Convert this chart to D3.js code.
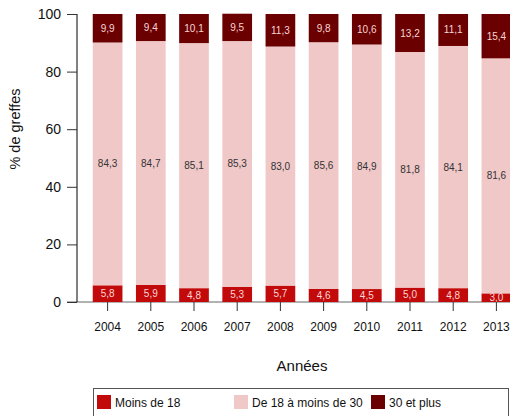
<!DOCTYPE html>
<html lang="fr">
<head>
    <meta charset="UTF-8">
    <title>Greffes par âge du donneur</title>
    <script src="https://d3js.org/d3.v7.min.js"></script>
    <style>
        body {
            margin: 0;
            background-color: #fff;
            font-family: "Liberation Sans", Arial, sans-serif;
        }
        svg {
            display: block;
        }
    </style>
</head>
<body>
<svg width="510" height="416"></svg>

<script>
    // Data
    const years = ["2004", "2005", "2006", "2007", "2008", "2009", "2010", "2011", "2012", "2013"];
    const moins18 = [5.8, 5.9, 4.8, 5.3, 5.7, 4.6, 4.5, 5.0, 4.8, 3.0];
    const de18a30 = [84.3, 84.7, 85.1, 85.3, 83.0, 85.6, 84.9, 81.8, 84.1, 81.6];
    const plus30 = [9.9, 9.4, 10.1, 9.5, 11.3, 9.8, 10.6, 13.2, 11.1, 15.4];
    const seriesNames = ["Moins de 18", "De 18 à moins de 30", "30 et plus"];
    const yTicks = [0, 20, 40, 60, 80, 100];

    const colors = ["#c30a0a", "#f0c8c8", "#6b0000"];
    const labelColors = ["#f6d6d6", "#333333", "#f6d6d6"];

    const svg = d3.select("svg");

    const xScale = d3.scaleBand()
        .domain(years)
        .range([86, 518])
        .paddingInner(0.3125)
        .paddingOuter(0.15625);

    const yScale = d3.scaleLinear()
        .domain([0, 100])
        .range([302, 14]);

    // build stacked table
    const table = years.map((y, i) => ({
        year: y,
        "Moins de 18": moins18[i],
        "De 18 à moins de 30": de18a30[i],
        "30 et plus": plus30[i]
    }));
    const stacked = d3.stack().keys(seriesNames)(table);

    // baseline under the bars
    svg.append("line")
        .attr("x1", 67).attr("x2", 510)
        .attr("y1", yScale(0)).attr("y2", yScale(0))
        .attr("stroke", "#666")
        .attr("stroke-width", 1.2);

    const groups = svg.selectAll("g.series")
        .data(stacked)
        .enter()
        .append("g")
        .attr("class", "series");

    groups.selectAll("rect")
        .data((s, k) => s.map(d => ({d: d, k: k})))
        .enter()
        .append("rect")
        .attr("x", p => xScale(p.d.data.year))
        .attr("y", p => yScale(p.d[1]))
        .attr("width", xScale.bandwidth())
        .attr("height", p => yScale(p.d[0]) - yScale(p.d[1]))
        .attr("fill", p => colors[p.k]);

    groups.selectAll("text")
        .data((s, k) => s.map(d => ({d: d, k: k})))
        .enter()
        .append("text")
        .attr("x", p => xScale(p.d.data.year) + xScale.bandwidth() / 2)
        .attr("y", p => (yScale(p.d[0]) + yScale(p.d[1])) / 2)
        .attr("dy", "0.35em")
        .attr("text-anchor", "middle")
        .attr("font-size", "10px")
        .attr("fill", p => labelColors[p.k])
        .text(p => (p.d[1] - p.d[0]).toFixed(1).replace(".", ","));

    // Y axis
    const yAxis = svg.append("g")
        .attr("transform", "translate(77,0)")
        .call(d3.axisLeft(yScale).tickValues(yTicks).tickSize(10).tickPadding(6));
    yAxis.select(".domain").attr("stroke", "#000").attr("d", `M0,${yScale(0)}V${yScale(100)}`);
    yAxis.selectAll(".tick line").attr("stroke", "#333");
    yAxis.selectAll("text").attr("font-size", "14px").attr("font-family", "Liberation Sans, Arial, sans-serif").attr("fill", "#111");

    // X axis (ticks only)
    const xAxis = svg.append("g")
        .attr("transform", `translate(0,${yScale(0)})`)
        .call(d3.axisBottom(xScale).tickSize(9).tickPadding(11));
    xAxis.select(".domain").remove();
    xAxis.selectAll(".tick line").attr("stroke", "#333");
    xAxis.selectAll("text").attr("font-size", "12px").attr("font-family", "Liberation Sans, Arial, sans-serif").attr("fill", "#111");

    // Axis titles
    svg.append("text")
        .attr("x", 302).attr("y", 366)
        .attr("dy", "0.35em")
        .attr("text-anchor", "middle")
        .attr("font-size", "15px")
        .attr("fill", "#111")
        .text("Années");

    svg.append("text")
        .attr("transform", "translate(15,129) rotate(-90)")
        .attr("dy", "0.35em")
        .attr("text-anchor", "middle")
        .attr("font-size", "14.5px")
        .attr("fill", "#111")
        .text("% de greffes");

    // Legend
    const legend = svg.append("g");
    legend.append("rect")
        .attr("x", 93.5).attr("y", 388.5)
        .attr("width", 415).attr("height", 40)
        .attr("fill", "none")
        .attr("stroke", "#555");

    const legendX = [97, 234, 371];
    seriesNames.forEach((name, i) => {
        legend.append("rect")
            .attr("x", legendX[i]).attr("y", 395)
            .attr("width", 14).attr("height", 14)
            .attr("fill", colors[i]);
        legend.append("text")
            .attr("x", legendX[i] + 18).attr("y", 403)
            .attr("dy", "0.35em")
            .attr("font-size", "12px")
            .attr("fill", "#111")
            .text(name);
    });
</script>
</body>
</html>
